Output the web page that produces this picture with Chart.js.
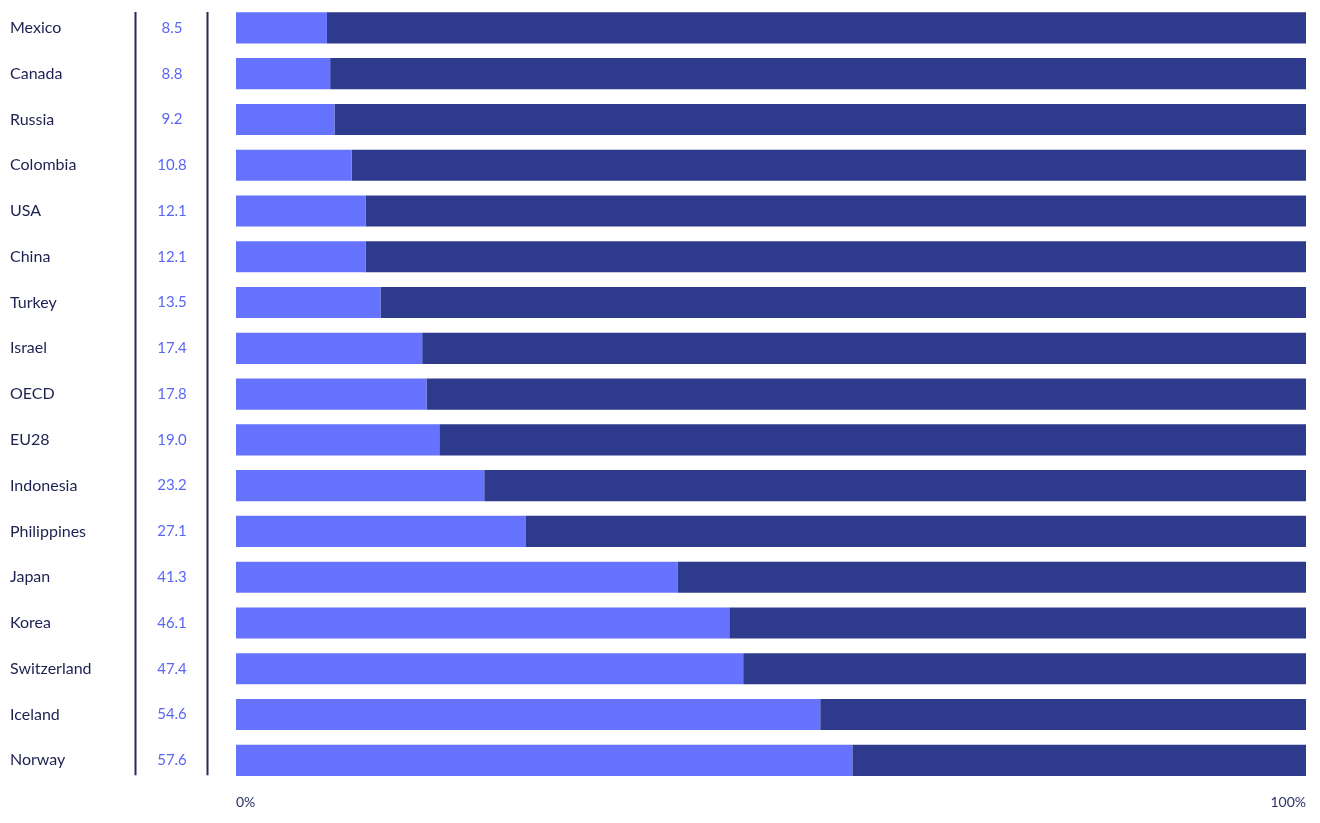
<!DOCTYPE html>
<html>
<head>
<meta charset="utf-8">
<script src="https://cdn.jsdelivr.net/npm/chart.js@4.4.1/dist/chart.umd.min.js"></script>
<style>
  html, body { margin: 0; padding: 0; background: #fff; }
  #wrap { width: 1320px; height: 823px; position: relative; }
</style>
</head>
<body>
<div id="wrap"><canvas id="chart"></canvas></div>
<script>
// share values (percent)
const countries = ["Mexico", "Canada", "Russia", "Colombia", "USA", "China", "Turkey", "Israel", "OECD", "EU28", "Indonesia", "Philippines", "Japan", "Korea", "Switzerland", "Iceland", "Norway"];
const shares = [8.5, 8.8, 9.2, 10.8, 12.1, 12.1, 13.5, 17.4, 17.8, 19.0, 23.2, 27.1, 41.3, 46.1, 47.4, 54.6, 57.6];
const shareLabels = ["8.5", "8.8", "9.2", "10.8", "12.1", "12.1", "13.5", "17.4", "17.8", "19.0", "23.2", "27.1", "41.3", "46.1", "47.4", "54.6", "57.6"];
const rest = shares.map(v => 100 - v);

const LIGHT = "#6673ff";
const DARK = "#2e3a8b";

// left columns: names, values and the two rules
const sideColumns = {
  id: "sideColumns",
  afterDraw(chart) {
    const ctx = chart.ctx;
    const y = chart.scales.y;
    ctx.save();
    ctx.textBaseline = "middle";
    countries.forEach((name, i) => {
      const py = y.getPixelForValue(i);
      ctx.font = "16px Lato";
      ctx.fillStyle = "#1d2150";
      ctx.textAlign = "left";
      ctx.fillText(name, 10, py);
      ctx.font = "15px Lato";
      ctx.fillStyle = "#5a67f5";
      ctx.textAlign = "center";
      ctx.fillText(shareLabels[i], 172, py);
    });
    const top = y.getPixelForValue(0) - 16;
    const bottom = y.getPixelForValue(countries.length - 1) + 15;
    ctx.strokeStyle = "#262a5e";
    ctx.lineWidth = 2;
    [135.5, 207.5].forEach(x => {
      ctx.beginPath();
      ctx.moveTo(x, top);
      ctx.lineTo(x, bottom);
      ctx.stroke();
    });
    ctx.restore();
  }
};

new Chart(document.getElementById("chart"), {
  type: "bar",
  data: {
    labels: countries,
    datasets: [
      { data: shares, backgroundColor: LIGHT, barPercentage: 0.68, categoryPercentage: 1 },
      { data: rest, backgroundColor: DARK, barPercentage: 0.68, categoryPercentage: 1 }
    ]
  },
  options: {
    indexAxis: "y",
    responsive: true,
    maintainAspectRatio: false,
    animation: false,
    layout: { padding: { left: 236, right: 14, top: 5, bottom: 9 } },
    plugins: { legend: { display: false }, tooltip: { enabled: false } },
    scales: {
      x: {
        stacked: true,
        min: 0,
        max: 100,
        grid: { display: false },
        border: { display: false },
        ticks: {
          stepSize: 100,
          align: "inner",
          padding: 3,
          color: "#2a2f66",
          font: { family: "Lato", size: 14 },
          callback: v => v + "%"
        }
      },
      y: {
        stacked: true,
        display: false
      }
    }
  },
  plugins: [sideColumns]
});
</script>
</body>
</html>
